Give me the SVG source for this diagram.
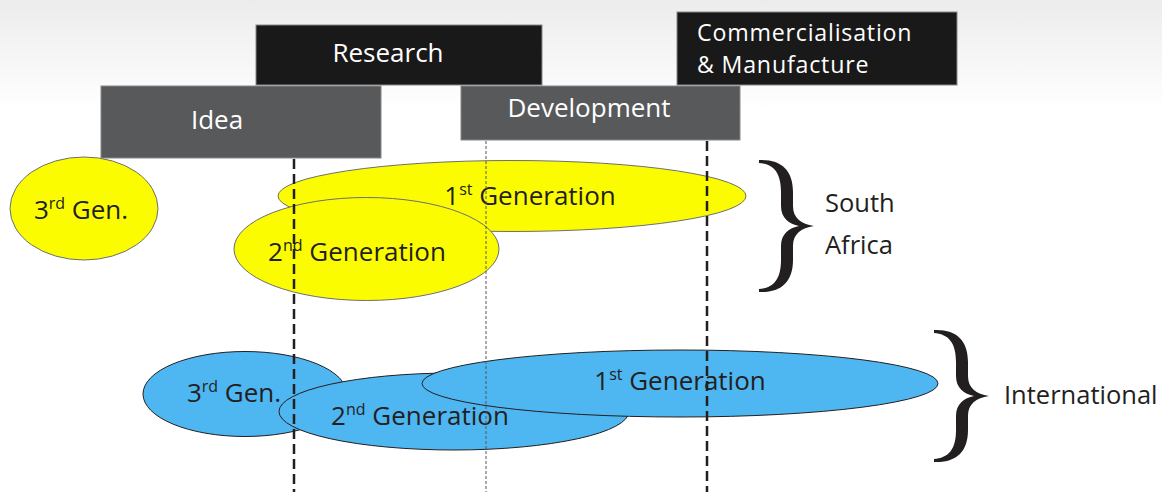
<svg xmlns="http://www.w3.org/2000/svg" width="1162" height="492" viewBox="0 0 1162 492">
<defs>
<linearGradient id="bg" x1="0" y1="0" x2="0" y2="1">
<stop offset="0" stop-color="#ececec"/>
<stop offset="1" stop-color="#ffffff"/>
</linearGradient>
<path id="brace" d="M0,0 C22,-1 34,10 34,32 L34,46 C34,58 42,64 55,66 C42,68 34,74 34,86 L34,100 C34,122 22,133 0,132 L0,129 C14,128 22,120 22,100 L22,86 C22,74 30,68 40,66 C30,64 22,58 22,46 L22,32 C22,12 14,4 0,3 Z"/>
</defs>
<style>
text{font-family:"Open Sans","Liberation Sans",sans-serif;fill:#231f20;font-size:26px}
.box text{fill:#ffffff}
.box text.cm{font-size:23.2px;letter-spacing:0.8px}
.lbl{font-size:25.5px}
.dark{fill:#1a1919;stroke:#888;stroke-width:1}
.grey{fill:#58595b;stroke:#888;stroke-width:1}
.yel{fill:#fcfc00;stroke:#6d6e71;stroke-width:1}
.blu{fill:#4eb6f0;stroke:#231f20;stroke-width:1}
.sup{font-size:16px}
.thick{stroke:#231f20;stroke-width:2.5;stroke-dasharray:10 5;fill:none}
.thin{stroke:#555;stroke-width:1;stroke-dasharray:3 2;fill:none}
.brace{fill:#231f20}
</style>
<rect x="0" y="0" width="1162" height="110" fill="url(#bg)"/>
<rect x="0" y="110" width="1162" height="382" fill="#ffffff"/>

<g id="research" class="box"><rect class="dark" x="256" y="25" width="286" height="60"/><text x="388" y="62" text-anchor="middle">Research</text></g>
<g id="idea" class="box"><rect class="grey" x="101" y="86" width="280" height="72"/><text x="217" y="129" text-anchor="middle">Idea</text></g>
<g id="development" class="box"><rect class="grey" x="461" y="86" width="279" height="54"/><text x="589" y="117" text-anchor="middle">Development</text></g>
<g id="commercialisation" class="box"><rect class="dark" x="677" y="12" width="280" height="73"/><text class="cm" x="697" y="40.5">Commercialisation</text><text class="cm" x="697" y="72.5">&amp; Manufacture</text></g>

<g id="sa-3rd"><ellipse class="yel" cx="84" cy="208.5" rx="74" ry="51.5"/><text x="81" y="219" text-anchor="middle">3<tspan class="sup" dy="-10">rd</tspan><tspan dy="10"> Gen.</tspan></text></g>
<g id="sa-1st"><ellipse class="yel" cx="512" cy="196" rx="234" ry="35.5"/><text x="530" y="205" text-anchor="middle">1<tspan class="sup" dy="-10">st</tspan><tspan dy="10"> Generation</tspan></text></g>
<g id="sa-2nd"><ellipse class="yel" cx="366.5" cy="249" rx="132.5" ry="51.5"/><text x="357" y="261" text-anchor="middle">2<tspan class="sup" dy="-10">nd</tspan><tspan dy="10"> Generation</tspan></text></g>

<g id="int-3rd"><ellipse class="blu" cx="245" cy="394" rx="102" ry="42.5"/><text x="234" y="402" text-anchor="middle">3<tspan class="sup" dy="-10">rd</tspan><tspan dy="10"> Gen.</tspan></text></g>
<g id="int-2nd"><ellipse class="blu" cx="454" cy="411.5" rx="175" ry="38.5"/><text x="420" y="425" text-anchor="middle">2<tspan class="sup" dy="-10">nd</tspan><tspan dy="10"> Generation</tspan></text></g>
<g id="int-1st"><ellipse class="blu" cx="680" cy="383.5" rx="258" ry="33.5"/><text x="680" y="390" text-anchor="middle">1<tspan class="sup" dy="-10">st</tspan><tspan dy="10"> Generation</tspan></text></g>

<g id="connectors">
<line class="thick" x1="294" y1="159" x2="294" y2="492"/>
<line class="thin" x1="486" y1="141" x2="486" y2="492"/>
<line class="thick" x1="707" y1="141" x2="707" y2="492"/>
</g>

<g id="south-africa"><use href="#brace" class="brace" transform="translate(759,160)"/><text class="lbl" x="825" y="212">South</text><text class="lbl" x="825" y="254">Africa</text></g>
<g id="international"><use href="#brace" class="brace" transform="translate(934,330)"/><text class="lbl" x="1004" y="404">International</text></g>
</svg>
